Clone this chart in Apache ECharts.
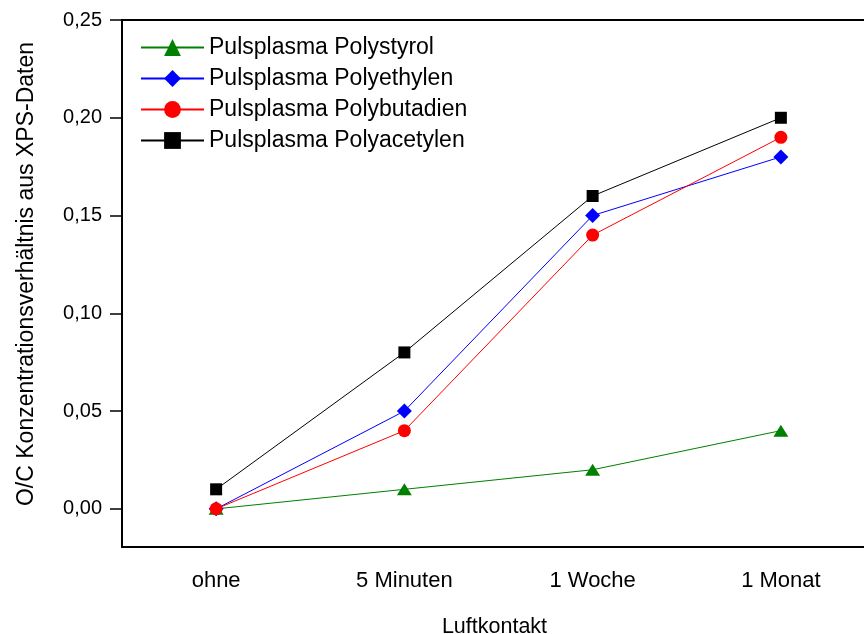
<!DOCTYPE html>
<html>
<head>
<meta charset="utf-8">
<script src="https://cdn.jsdelivr.net/npm/echarts@6/dist/echarts.min.js"></script>
<style>
  html, body { margin: 0; padding: 0; background: #fff; }
  #chart { width: 864px; height: 634px; }
</style>
</head>
<body>
<div id="chart"></div>
<script>
// Exposure to air after pulsed-plasma deposition
const categories = ['ohne', '5 Minuten', '1 Woche', '1 Monat'];
const yTicks = [0, 0.05, 0.10, 0.15, 0.20, 0.25];

const polystyrol    = [0.00, 0.01, 0.02, 0.04];
const polyethylen   = [0.00, 0.05, 0.15, 0.18];
const polybutadien  = [0.00, 0.04, 0.14, 0.19];
const polyacetylen  = [0.01, 0.08, 0.16, 0.20];

const FONT = '"Liberation Sans", Arial, sans-serif';

function lineSeries(name, data, color, symbol, size) {
  return {
    name: name,
    type: 'line',
    data: data,
    symbol: symbol,
    symbolSize: size,
    showAllSymbol: true,
    lineStyle: { color: color, width: 1 },
    itemStyle: { color: color },
    emphasis: { disabled: true },
    animation: false
  };
}

const chart = echarts.init(document.getElementById('chart'));
chart.setOption({
  backgroundColor: '#ffffff',
  animation: false,
  // plot box runs past the right edge of the canvas
  grid: { left: 122, width: 753, top: 20, height: 527, containLabel: false, outerBoundsMode: 'none' },
  legend: {
    orient: 'vertical',
    left: 140,
    top: 36,
    padding: 0,
    itemWidth: 63,
    itemHeight: 21,
    itemGap: 8,
    textStyle: { fontFamily: FONT, fontSize: 23, color: '#000' },
    data: ['Pulsplasma Polystyrol', 'Pulsplasma Polyethylen', 'Pulsplasma Polybutadien', 'Pulsplasma Polyacetylen']
  },
  xAxis: [
    {
      type: 'category',
      data: categories,
      position: 'bottom',
      boundaryGap: true,
      name: 'Luftkontakt',
      nameLocation: 'middle',
      nameGap: 69,
      nameTextStyle: { fontFamily: FONT, fontSize: 21.5, color: '#000', verticalAlign: 'top', padding: [0, 8, 0, 0] },
      axisLine: { onZero: false, lineStyle: { color: '#000', width: 2 } },
      axisTick: { alignWithLabel: true, length: 11, lineStyle: { color: '#000', width: 1.5 } },
      axisLabel: { fontFamily: FONT, fontSize: 22, color: '#000', margin: 23 },
      splitLine: { show: false }
    },
    {
      type: 'category',
      data: categories,
      position: 'top',
      boundaryGap: true,
      axisLine: { onZero: false, lineStyle: { color: '#000', width: 2 } },
      axisTick: { alignWithLabel: true, inside: true, length: 3, lineStyle: { color: '#000', width: 1.5 } },
      axisLabel: { show: false },
      splitLine: { show: false }
    }
  ],
  yAxis: {
    type: 'value',
    min: -0.0195,
    max: 0.25,
    axisLine: { show: true, onZero: false, lineStyle: { color: '#000', width: 2 } },
    axisTick: { show: true, length: 12, customValues: yTicks, lineStyle: { color: '#000', width: 1.5 } },
    axisLabel: {
      fontFamily: FONT, fontSize: 20, color: '#000', margin: 20,
      customValues: yTicks,
      formatter: v => v.toFixed(2).replace('.', ',')
    },
    splitLine: { show: false }
  },
  graphic: [{
    type: 'text',
    x: 27,
    y: 274,
    rotation: Math.PI / 2,
    style: {
      text: 'O/C Konzentrationsverhältnis aus XPS-Daten',
      font: '23px ' + FONT,
      fill: '#000',
      textAlign: 'center',
      textVerticalAlign: 'middle'
    }
  }],
  series: [
    lineSeries('Pulsplasma Polystyrol', polystyrol, '#008000', 'triangle', [15, 12]),
    lineSeries('Pulsplasma Polyethylen', polyethylen, '#0000ff', 'diamond', 15),
    lineSeries('Pulsplasma Polybutadien', polybutadien, '#ff0000', 'circle', 13),
    lineSeries('Pulsplasma Polyacetylen', polyacetylen, '#000000', 'rect', 12)
  ]
});
</script>
</body>
</html>
